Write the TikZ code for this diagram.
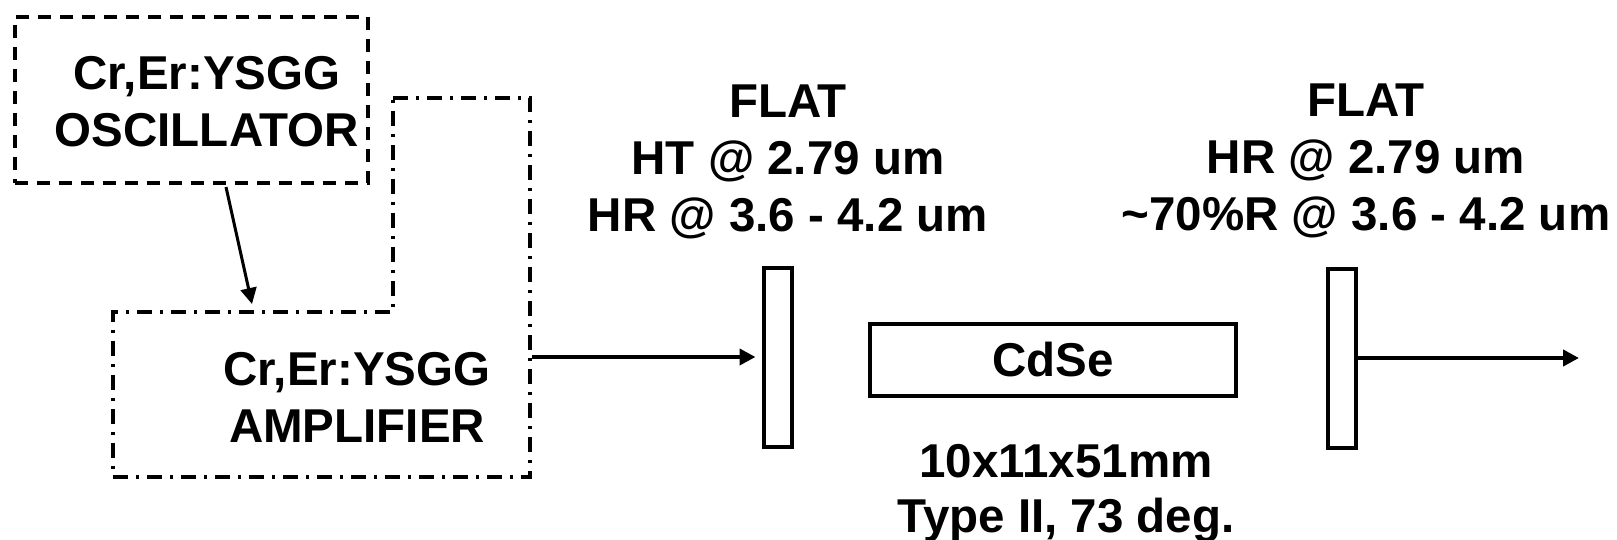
\documentclass[tikz,border=0pt]{standalone}
\usepackage{fontspec}
\setmainfont{Liberation Sans}
\usetikzlibrary{arrows.meta}
\tikzset{
  lbl/.style={font=\fontsize{47.5}{57}\selectfont\bfseries, align=center, inner sep=0pt},
  optic/.style={draw, line width=4pt, inner sep=0pt},
  beam/.style={line width=4pt, -{Triangle[length=16pt,width=16pt]}},
}
\begin{document}
\begin{tikzpicture}[x=1pt,y=-1pt]
  \useasboundingbox (0,0) rectangle (1617,540);
  % oscillator and amplifier
  \node[optic, dash pattern=on 13pt off 9pt, minimum width=353pt, minimum height=166pt] (osc) at (191.5,100) {};
  \node[lbl] (osctext) at (207,102) {Cr,Er:YSGG\\OSCILLATOR};
  \draw[line width=4pt, dash pattern=on 15pt off 8pt on 3pt off 8pt]
    (393,98) -- (530,98) -- (530,477) -- (113,477) -- (113,312) -- (393,312) -- cycle;
  \node[lbl] (amp) at (357,397) {Cr,Er:YSGG\\AMPLIFIER};
  \coordinate (osc-out) at (226,187);
  \coordinate (amp-in) at (252,304);
  \coordinate (amp-out) at (532,357);
  \draw[beam, line width=3pt] (osc-out) -- (amp-in);
  % cavity
  \node[optic, minimum width=28pt, minimum height=179pt] (m1) at (777.5,357) {};
  \node[optic, minimum width=366pt, minimum height=72pt, font=\fontsize{47.5}{57}\selectfont\bfseries] (xtal) at (1053,360) {CdSe};
  \node[optic, minimum width=28pt, minimum height=179pt] (m2) at (1341.5,358) {};
  \coordinate (out) at (1579,358);
  \draw[beam, shorten >=6pt] (amp-out) -- (m1.west);
  \draw[beam] (m2.east) -- (out);
  % labels
  \node[lbl] (m1lbl) at (788,162) {FLAT\\HT @ 2.79 um\\HR @ 3.6 - 4.2 um};
  \node[lbl] (m2lbl) at (1366,161) {FLAT\\HR @ 2.79 um\\\textasciitilde 70\%R @ 3.6 - 4.2 um};
  \node[lbl, font=\fontsize{47.5}{55}\selectfont\bfseries] (xtallbl) at (1066,493) {10x11x51mm\\Type II, 73 deg.};
\end{tikzpicture}
\end{document}
